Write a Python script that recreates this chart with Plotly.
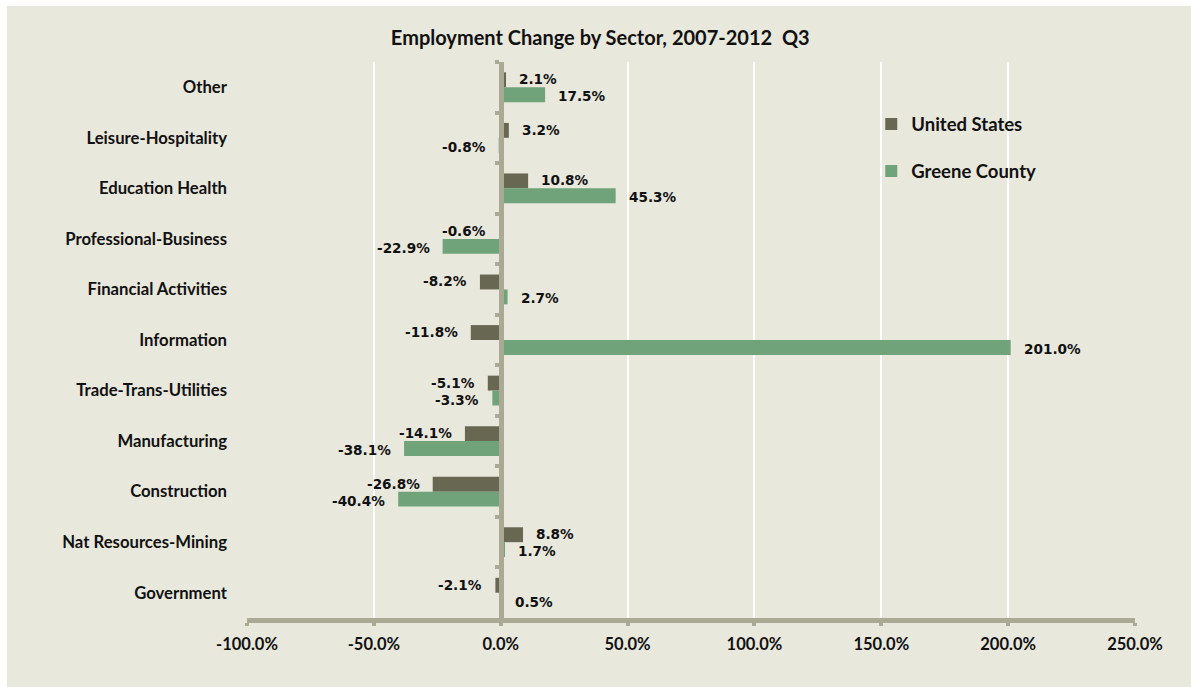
import plotly.graph_objects as go

categories = ["Other", "Leisure-Hospitality", "Education Health", "Professional-Business",
              "Financial Activities", "Information", "Trade-Trans-Utilities", "Manufacturing",
              "Construction", "Nat Resources-Mining", "Government"]
us_values = [2.1, 3.2, 10.8, -0.6, -8.2, -11.8, -5.1, -14.1, -26.8, 8.8, -2.1]
greene_values = [17.5, -0.8, 45.3, -22.9, 2.7, 201.0, -3.3, -38.1, -40.4, 1.7, 0.5]
x_ticks = [-100, -50, 0, 50, 100, 150, 200, 250]
x_tick_labels = [f"{v:.1f}%" for v in x_ticks]

BG = "#E9E8DD"
AXIS = "#A9A994"
US_C = "#686852"
GC_C = "#70A379"
CAL = "Lato"

fig = go.Figure()
fig.add_trace(go.Bar(y=categories, x=us_values, orientation="h", name="United States",
                     marker=dict(color=US_C, line=dict(width=0)), legendgroup="us"))
fig.add_trace(go.Bar(y=categories, x=greene_values, orientation="h", name="Greene County",
                     marker=dict(color=GC_C, line=dict(width=0)), legendgroup="gc"))
# invisible helper trace for the zero-positioned axis with boundary ticks
fig.add_trace(go.Scatter(y=categories, x=[0] * len(categories), yaxis="y2", mode="markers",
                         marker=dict(opacity=0), showlegend=False, hoverinfo="skip"))

annotations = []
for vals, ys in ((us_values, 8), (greene_values, -9)):
    for c, v in zip(categories, vals):
        annotations.append(dict(x=v, y=c, xref="x", yref="y", text=f"{v:.1f}%",
                                showarrow=False, xanchor="left" if v >= 0 else "right",
                                xshift=11 if v >= 0 else -11, yshift=ys,
                                font=dict(family="DejaVu Sans", size=13.6, color="#111111",
                                          weight="bold")))

xmin, xmax = x_ticks[0], x_ticks[-1]
zero_pos = (0 - xmin) / (xmax - xmin)

fig.update_layout(
    width=1191, height=687,
    margin=dict(l=247, r=56, t=62, b=69),
    paper_bgcolor="white", plot_bgcolor=BG,
    barmode="group", bargap=0.41, bargroupgap=0.0,
    title=dict(text="Employment Change by Sector, 2007-2012  Q3", xref="container", yref="container",
               x=0.504, y=1 - 38 / 687, xanchor="center", yanchor="middle",
               font=dict(family=CAL, size=20, color="#111111", weight="bold")),
    xaxis=dict(range=[xmin, xmax], tickvals=x_ticks, ticktext=x_tick_labels,
               showgrid=True, gridcolor="white", gridwidth=2, zeroline=False,
               showline=True, linecolor=AXIS, linewidth=5, ticks="outside", ticklen=3,
               tickwidth=4, tickcolor=AXIS, layer="above traces", ticklabelstandoff=4,
               tickfont=dict(family=CAL, size=16.5, color="#111111", weight="bold")),
    yaxis=dict(type="category", categoryarray=categories, range=[len(categories) - 0.5, -0.5],
               showgrid=False, zeroline=False, showline=False, ticks="",
               ticklabelstandoff=19,
               tickfont=dict(family=CAL, size=16.7, color="#111111", weight="bold")),
    yaxis2=dict(type="category", categoryarray=categories, range=[len(categories) - 0.5, -0.5],
                overlaying="y", anchor="free", position=zero_pos, side="left",
                showgrid=False, zeroline=False, showticklabels=False,
                showline=True, linecolor=AXIS, linewidth=5, ticks="outside", ticklen=4,
                tickwidth=4, tickcolor=AXIS, tickson="boundaries", layer="above traces"),
    legend=dict(x=0.703, y=0.922, xanchor="left", yanchor="top", bgcolor="rgba(0,0,0,0)",
                traceorder="grouped", tracegroupgap=20,
                font=dict(family=CAL, size=18.5, color="#111111", weight="bold")),
    annotations=annotations,
    shapes=[dict(type="rect", xref="paper", yref="paper", x0=(7 - 247) / 888, x1=1.2,
                 y0=-0.3, y1=(618 - 6) / 556, fillcolor=BG, line=dict(width=0), layer="below")],
    showlegend=True,
)

fig.write_html("out.html")
